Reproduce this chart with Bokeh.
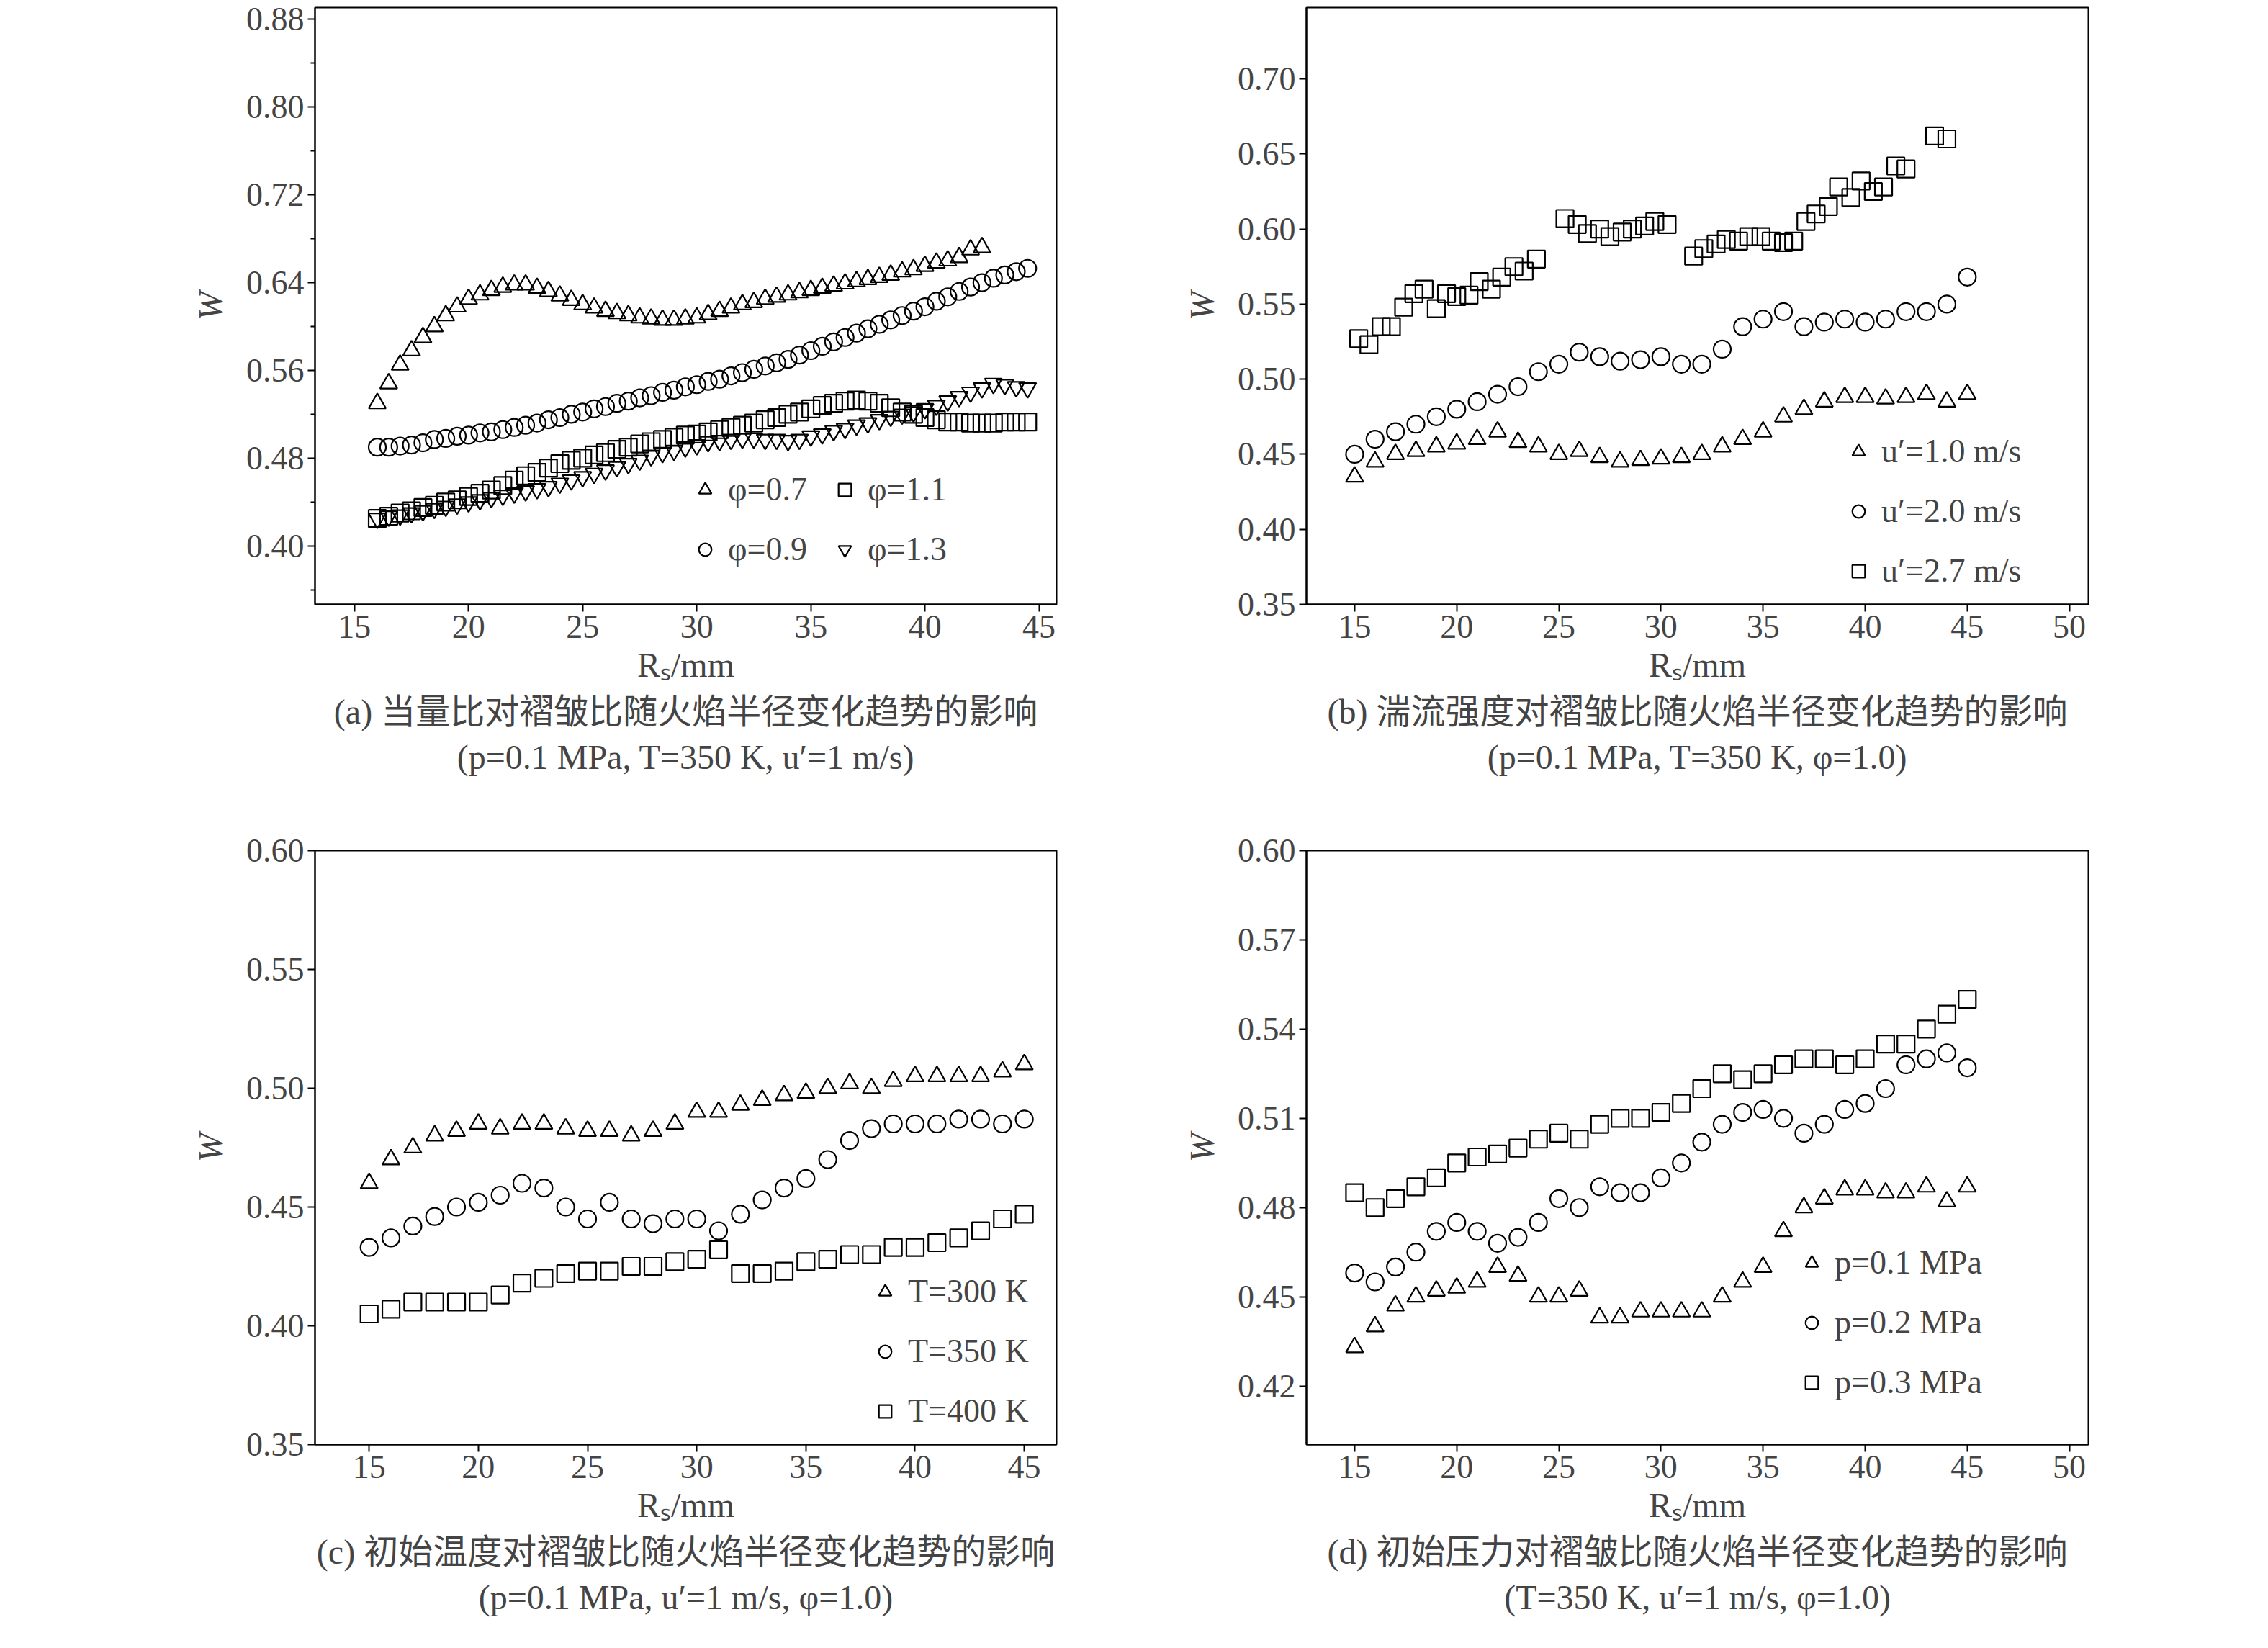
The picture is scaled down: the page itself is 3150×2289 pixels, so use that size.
import numpy as np
from bokeh.plotting import figure
from bokeh.layouts import column, row
from bokeh.models import Legend, LegendItem, Title, FixedTicker, NumeralTickFormatter
from bokeh.embed import file_html
from bokeh.resources import INLINE

FONT = "Liberation Serif, Noto Sans CJK SC"

# ---------- data ----------
a_x_07 = list(np.arange(16.0, 42.51, 0.5))
a_y_07 = [.530,.548,.565,.578,.590,.600,.610,.618,.625,.629,.633,.636,.638,.638,.635,.632,.628,.624,.620,.617,.614,.612,.610,.608,.607,.606,.606,.607,.608,.611,.614,.617,.620,.622,.625,.627,.629,.631,.633,.635,.637,.639,.641,.643,.645,.647,.650,.652,.655,.658,.660,.663,.670,.672]
a_x_09 = list(np.arange(16.0, 44.51, 0.5))
a_y_09 = [.490,.490,.491,.492,.494,.497,.498,.500,.501,.503,.504,.506,.508,.510,.512,.515,.517,.520,.522,.525,.527,.530,.532,.535,.537,.540,.542,.545,.547,.550,.552,.555,.558,.561,.564,.567,.570,.574,.578,.582,.586,.590,.594,.598,.602,.606,.610,.614,.618,.623,.627,.632,.636,.640,.644,.647,.650,.653,.656]
a_x_11 = list(np.arange(16.0, 44.51, 0.5))
a_y_11 = [.425,.427,.430,.432,.435,.437,.440,.442,.445,.448,.451,.455,.460,.464,.467,.471,.475,.478,.480,.483,.485,.488,.490,.493,.495,.497,.499,.501,.502,.504,.506,.508,.510,.512,.515,.517,.520,.522,.525,.528,.530,.532,.533,.532,.530,.526,.522,.520,.517,.515,.513,.513,.512,.512,.512,.513,.513,.513,.513]
a_x_13 = list(np.arange(16.0, 44.51, 0.5))
a_y_13 = [.425,.427,.428,.430,.432,.434,.436,.438,.440,.442,.444,.446,.448,.450,.452,.454,.457,.460,.463,.466,.469,.472,.475,.478,.482,.485,.487,.490,.492,.495,.496,.497,.498,.498,.497,.497,.496,.497,.500,.502,.505,.507,.510,.512,.515,.518,.520,.522,.525,.528,.532,.536,.540,.544,.548,.547,.545,.544,.543]

b_x = list(np.arange(15.0, 45.01, 1.0))
b_y_10 = [.435,.445,.450,.452,.455,.457,.460,.465,.458,.455,.450,.452,.448,.445,.446,.447,.448,.450,.455,.460,.465,.475,.480,.485,.488,.488,.487,.488,.490,.485,.490]
b_y_20 = [.450,.460,.465,.470,.475,.480,.485,.490,.495,.505,.510,.518,.515,.512,.513,.515,.510,.510,.520,.535,.540,.545,.535,.538,.540,.538,.540,.545,.545,.550,.568]
b_x_27 = [15.2,15.7,16.3,16.8,17.4,17.9,18.4,19.0,19.5,20.0,20.6,21.1,21.7,22.2,22.8,23.3,23.9,25.3,25.9,26.4,27.0,27.5,28.1,28.6,29.2,29.7,30.3,31.6,32.1,32.7,33.2,33.8,34.3,34.9,35.4,36.0,36.5,37.1,37.6,38.2,38.7,39.3,39.8,40.4,40.9,41.5,42.0,43.4,44.0]
b_y_27 = [.527,.523,.535,.535,.548,.557,.560,.547,.557,.555,.556,.565,.560,.568,.575,.572,.580,.607,.603,.597,.600,.595,.598,.600,.602,.605,.603,.582,.587,.590,.593,.592,.595,.595,.592,.591,.592,.605,.610,.615,.628,.621,.632,.625,.628,.642,.640,.662,.660]

c_x = list(np.arange(15.0, 45.01, 1.0))
c_y_300 = [.460,.470,.475,.480,.482,.485,.483,.485,.485,.483,.482,.482,.480,.482,.485,.490,.490,.493,.495,.497,.498,.500,.502,.500,.503,.505,.505,.505,.505,.507,.510]
c_y_350 = [.433,.437,.442,.446,.450,.452,.455,.460,.458,.450,.445,.452,.445,.443,.445,.445,.440,.447,.453,.458,.462,.470,.478,.483,.485,.485,.485,.487,.487,.485,.487]
c_y_400 = [.405,.407,.410,.410,.410,.410,.413,.418,.420,.422,.423,.423,.425,.425,.427,.428,.432,.422,.422,.423,.427,.428,.430,.430,.433,.433,.435,.437,.440,.445,.447]

d_x = list(np.arange(15.0, 45.01, 1.0))
d_y_01 = [.433,.440,.447,.450,.452,.453,.455,.460,.457,.450,.450,.452,.443,.443,.445,.445,.445,.445,.450,.455,.460,.472,.480,.483,.486,.486,.485,.485,.487,.482,.487]
d_y_02 = [.458,.455,.460,.465,.472,.475,.472,.468,.470,.475,.483,.480,.487,.485,.485,.490,.495,.502,.508,.512,.513,.510,.505,.508,.513,.515,.520,.528,.530,.532,.527]
d_y_03 = [.485,.480,.483,.487,.490,.495,.497,.498,.500,.503,.505,.503,.508,.510,.510,.512,.515,.520,.525,.523,.525,.528,.530,.530,.528,.530,.535,.535,.540,.545,.550]


def make(xr, yr, xticks, yticks, fw, fh, bl, bt, bb, br, caps, minor_y):
    p = figure(frame_width=fw, frame_height=fh, x_range=xr, y_range=yr,
               output_backend="svg", toolbar_location=None,
               min_border_left=bl, min_border_top=bt, min_border_bottom=bb,
               min_border_right=br, background_fill_color="white",
               border_fill_color="white")
    p.grid.visible = False
    p.outline_line_color = "black"
    p.outline_line_width = 2
    for ax in (p.xaxis[0], p.yaxis[0]):
        ax.axis_line_width = 2
        ax.major_tick_line_width = 2
        ax.major_tick_out = 10
        ax.major_tick_in = 0
        ax.minor_tick_line_width = 2
        ax.minor_tick_out = 6
        ax.minor_tick_in = 0
        ax.major_label_text_font = FONT
        ax.major_label_text_font_size = "46px"
        ax.axis_label_text_font = FONT
        ax.axis_label_text_font_size = "48px"
        ax.axis_label_text_font_style = "normal"
    p.xaxis.ticker = FixedTicker(ticks=xticks)
    p.yaxis.ticker = FixedTicker(ticks=yticks, minor_ticks=minor_y)
    p.yaxis.formatter = NumeralTickFormatter(format="0.00")
    p.xaxis.axis_label = "Rₛ/mm"
    p.xaxis.axis_label_standoff = 8
    p.yaxis.axis_label = "W"
    p.yaxis.axis_label_standoff = 20
    p.yaxis.axis_label_text_font_style = "italic"
    for i, c in enumerate(caps):
        t = Title(text=c, align="center", text_font=FONT, text_font_size="48px",
                  text_font_style="normal", offset=0, standoff=14 if i == 0 else 2)
        p.add_layout(t, "below")
    return p


def pts(p, kind, x, y):
    return p.scatter(x, y, marker=kind, size=24, fill_color=None,
                     line_color="black", line_width=2.2)


def leg(p, items, loc, ncols=1):
    L = Legend(items=items, location=loc, ncols=ncols, border_line_color=None,
               background_fill_alpha=0, label_text_font=FONT,
               label_text_font_size="46px", glyph_width=44, glyph_height=44,
               spacing=30, padding=0, label_standoff=10, margin=0)
    p.add_layout(L)


# (a)
pa = make((13.27, 45.77), (0.3467, 0.8907), [15, 20, 25, 30, 35, 40, 45],
          [0.40, 0.48, 0.56, 0.64, 0.72, 0.80, 0.88], 1030, 829, 437, 10, 290, 108,
          ["(a) 当量比对褶皱比随火焰半径变化趋势的影响", "(p=0.1 MPa, T=350 K, u′=1 m/s)"],
          [0.36, 0.44, 0.52, 0.60, 0.68, 0.76, 0.84])
r1 = pts(pa, "triangle", a_x_07, a_y_07)
r2 = pts(pa, "circle", a_x_09, a_y_09)
r3 = pts(pa, "square", a_x_11, a_y_11)
r4 = pts(pa, "inverted_triangle", a_x_13, a_y_13)
L = leg(pa, [LegendItem(label="φ=0.7", renderers=[r1]), LegendItem(label="φ=0.9", renderers=[r2]),
             LegendItem(label="φ=1.1", renderers=[r3]), LegendItem(label="φ=1.3", renderers=[r4])],
        (520, 50), ncols=2)

# (b)
pb = make((12.64, 50.93), (0.35, 0.7475), [15, 20, 25, 30, 35, 40, 45, 50],
          [0.35, 0.40, 0.45, 0.50, 0.55, 0.60, 0.65, 0.70], 1086, 829, 239, 10, 290, 30,
          ["(b) 湍流强度对褶皱比随火焰半径变化趋势的影响", "(p=0.1 MPa, T=350 K, φ=1.0)"], [])
s1 = pts(pb, "triangle", b_x, b_y_10)
s2 = pts(pb, "circle", b_x, b_y_20)
s3 = pts(pb, "square", b_x_27, b_y_27)
leg(pb, [LegendItem(label="u′=1.0 m/s", renderers=[s1]), LegendItem(label="u′=2.0 m/s", renderers=[s2]),
         LegendItem(label="u′=2.7 m/s", renderers=[s3])], (745, 20))

# (c)
pc = make((12.52, 46.48), (0.35, 0.60), [15, 20, 25, 30, 35, 40, 45],
          [0.35, 0.40, 0.45, 0.50, 0.55, 0.60], 1030, 825, 437, 52, 250, 108,
          ["(c) 初始温度对褶皱比随火焰半径变化趋势的影响", "(p=0.1 MPa, u′=1 m/s, φ=1.0)"], [])
t1 = pts(pc, "triangle", c_x, c_y_300)
t2 = pts(pc, "circle", c_x, c_y_350)
t3 = pts(pc, "square", c_x, c_y_400)
leg(pc, [LegendItem(label="T=300 K", renderers=[t1]), LegendItem(label="T=350 K", renderers=[t2]),
         LegendItem(label="T=400 K", renderers=[t3])], (770, 20))

# (d)
pd_ = make((12.64, 50.93), (0.4003, 0.60), [15, 20, 25, 30, 35, 40, 45, 50],
           [0.42, 0.45, 0.48, 0.51, 0.54, 0.57, 0.60], 1086, 825, 239, 52, 250, 30,
           ["(d) 初始压力对褶皱比随火焰半径变化趋势的影响", "(T=350 K, u′=1 m/s, φ=1.0)"], [])
q1 = pts(pd_, "triangle", d_x, d_y_01)
q2 = pts(pd_, "circle", d_x, d_y_02)
q3 = pts(pd_, "square", d_x, d_y_03)
leg(pd_, [LegendItem(label="p=0.1 MPa", renderers=[q1]), LegendItem(label="p=0.2 MPa", renderers=[q2]),
          LegendItem(label="p=0.3 MPa", renderers=[q3])], (680, 60))

layout = column(row(pa, pb), row(pc, pd_))
open("out.html", "w").write(file_html(layout, INLINE))
